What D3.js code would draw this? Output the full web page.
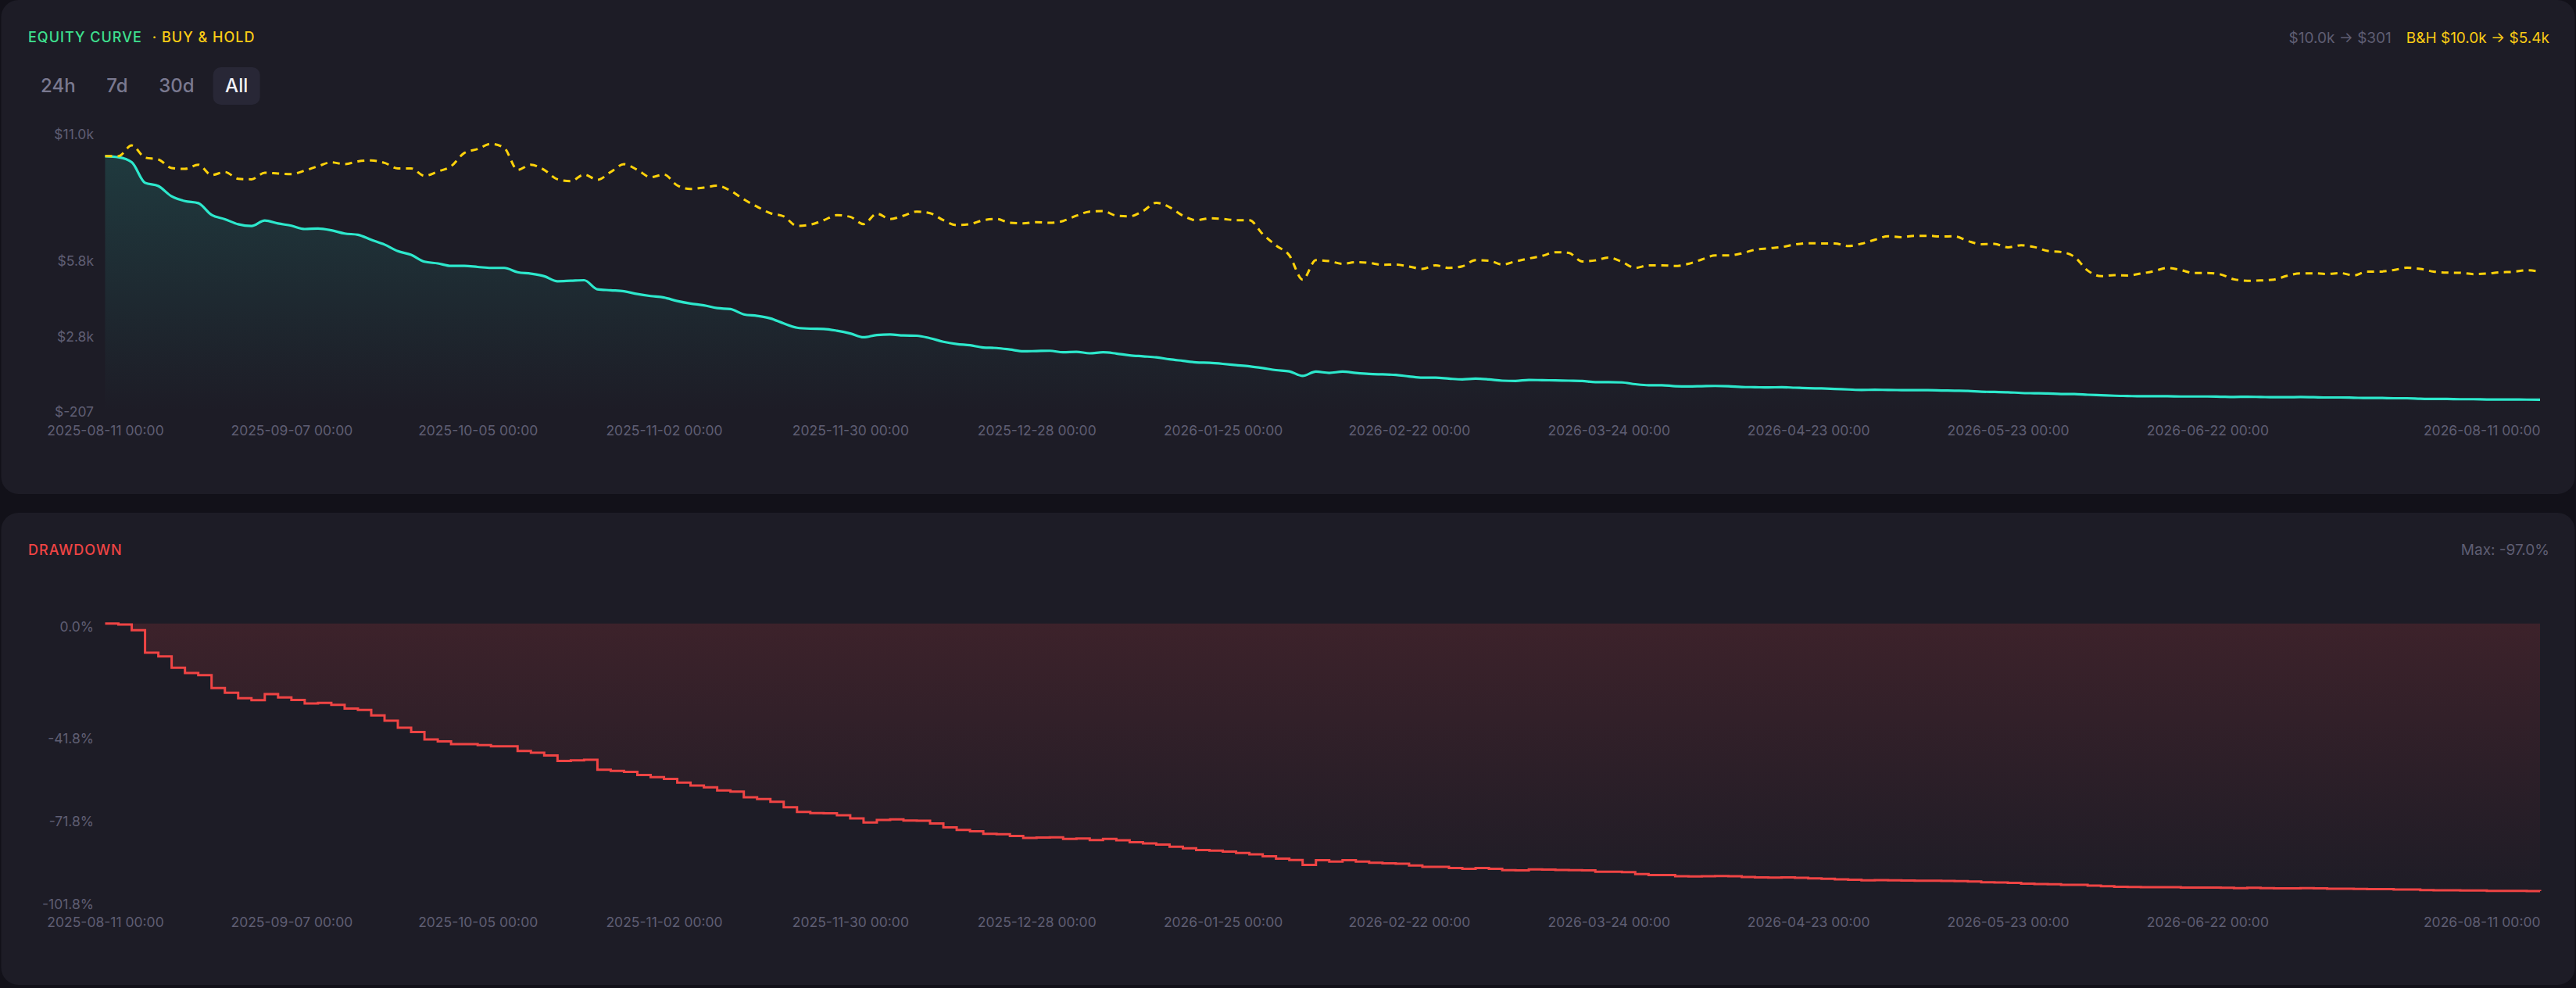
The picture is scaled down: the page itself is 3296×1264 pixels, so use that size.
<!DOCTYPE html>
<html lang="en">
<head>
<meta charset="UTF-8">
<title>Equity curve</title>
<script src="https://cdn.jsdelivr.net/npm/d3@7"></script>
<style>
  html, body { margin: 0; padding: 0; background: #121119; }
  svg { display: block; font-family: Inter, "Noto Sans", sans-serif; }
</style>
</head>
<body>
<svg id="chart" width="3296" height="1264"></svg>
<script>
// strategy equity, one value every ~2 days from 2025-08-11 to 2026-08-11
const equity = [
  10000, 9960, 9760, 8940, 8810, 8400, 8210, 8130, 7660, 7490, 7290, 7220, 7440, 7320, 7230, 7100,
  7120, 7050, 6920, 6870, 6670, 6480, 6220, 6070, 5800, 5730, 5630, 5630, 5590, 5550, 5550, 5380,
  5320, 5220, 5020, 5040, 5060, 4700, 4660, 4620, 4510, 4430, 4370, 4230, 4130, 4060, 3950, 3910,
  3700, 3640, 3540, 3340, 3170, 3130, 3120, 3050, 2940, 2790, 2880, 2900, 2860, 2850, 2750, 2610,
  2520, 2470, 2380, 2360, 2300, 2230, 2240, 2250, 2190, 2210, 2150, 2190, 2140, 2070, 2030, 1990,
  1910, 1850, 1790, 1770, 1730, 1680, 1630, 1560, 1480, 1430, 1250, 1420, 1370, 1420, 1370, 1330,
  1310, 1290, 1230, 1180, 1180, 1140, 1110, 1140, 1110, 1060, 1050, 1090, 1080, 1070, 1060, 1050,
  1000, 1000, 990, 920, 880, 880, 840, 830, 840, 850, 840, 810, 800, 790, 800, 780,
  760, 750, 730, 710, 690, 700, 690, 685, 680, 680, 670, 660, 650, 620, 610, 600,
  570, 560, 550, 530, 530, 500, 480, 460, 450, 440, 440, 440, 430, 430, 430, 420,
  410, 420, 410, 400, 400, 410, 400, 390, 390, 380, 370, 370, 360, 360, 340, 330,
  330, 320, 320, 310, 310, 310, 305, 301
];

// buy & hold of the same capital
const buyHold = [
  10000, 10000, 10430, 9945, 9870, 9530, 9495, 9660, 9250, 9370, 9100, 9080, 9340, 9310, 9290, 9425,
  9600, 9755, 9680, 9795, 9830, 9735, 9515, 9515, 9215, 9390, 9600, 10130, 10285, 10490, 10325, 9455,
  9660, 9455, 9080, 9005, 9270, 9060, 9370, 9680, 9455, 9165, 9270, 8835, 8695, 8750, 8825, 8625,
  8280, 7990, 7730, 7605, 7225, 7275, 7450, 7650, 7585, 7295, 7710, 7500, 7630, 7795, 7730, 7450,
  7255, 7295, 7450, 7500, 7345, 7325, 7370, 7345, 7420, 7630, 7795, 7815, 7630, 7605, 7815, 8145,
  7970, 7630, 7450, 7525, 7500, 7450, 7450, 6900, 6445, 6050, 5085, 5860, 5820, 5715, 5780, 5750,
  5675, 5685, 5605, 5510, 5655, 5550, 5615, 5860, 5840, 5685, 5810, 5925, 6030, 6175, 6150, 5810,
  5850, 5965, 5790, 5550, 5655, 5655, 5625, 5715, 5885, 6050, 6050, 6130, 6275, 6330, 6380, 6485,
  6535, 6525, 6525, 6425, 6515, 6670, 6810, 6775, 6830, 6830, 6800, 6810, 6620, 6495, 6505, 6370,
  6455, 6380, 6225, 6185, 5995, 5445, 5220, 5260, 5250, 5325, 5425, 5550, 5465, 5345, 5345, 5290,
  5095, 5040, 5050, 5085, 5240, 5335, 5335, 5310, 5345, 5250, 5405, 5405, 5465, 5560, 5510, 5405,
  5365, 5355, 5305, 5325, 5375, 5395, 5455, 5405
];

// drawdown from peak, percent
const drawdown = [
  0, -0.4, -2.4, -10.6, -11.9, -16.0, -17.9, -18.7, -23.4, -25.1, -27.1, -27.8, -25.6, -26.8, -27.7, -29.0,
  -28.8, -29.5, -30.8, -31.3, -33.3, -35.2, -37.8, -39.3, -42.0, -42.7, -43.7, -43.7, -44.1, -44.5, -44.5, -46.2,
  -46.8, -47.8, -49.8, -49.6, -49.4, -53.0, -53.4, -53.8, -54.9, -55.7, -56.3, -57.7, -58.7, -59.4, -60.5, -60.9,
  -63.0, -63.6, -64.6, -66.6, -68.3, -68.7, -68.8, -69.5, -70.6, -72.1, -71.2, -71.0, -71.4, -71.5, -72.5, -73.9,
  -74.8, -75.3, -76.2, -76.4, -77.0, -77.7, -77.6, -77.5, -78.1, -77.9, -78.5, -78.1, -78.6, -79.3, -79.7, -80.1,
  -80.9, -81.5, -82.1, -82.3, -82.7, -83.2, -83.7, -84.4, -85.2, -85.7, -87.5, -85.8, -86.3, -85.8, -86.3, -86.7,
  -86.9, -87.1, -87.7, -88.2, -88.2, -88.6, -88.9, -88.6, -88.9, -89.4, -89.5, -89.1, -89.2, -89.3, -89.4, -89.5,
  -90.0, -90.0, -90.1, -90.8, -91.2, -91.2, -91.6, -91.7, -91.6, -91.5, -91.6, -91.9, -92.0, -92.1, -92.0, -92.2,
  -92.4, -92.5, -92.7, -92.9, -93.1, -93.0, -93.1, -93.15, -93.2, -93.2, -93.3, -93.4, -93.5, -93.8, -93.9, -94.0,
  -94.3, -94.4, -94.5, -94.7, -94.7, -95.0, -95.2, -95.4, -95.5, -95.6, -95.6, -95.6, -95.7, -95.7, -95.7, -95.8,
  -95.9, -95.8, -95.9, -96.0, -96.0, -95.9, -96.0, -96.1, -96.1, -96.2, -96.3, -96.3, -96.4, -96.4, -96.6, -96.7,
  -96.7, -96.8, -96.8, -96.9, -96.9, -96.9, -96.95, -96.99
];

const xTickIndex = [0, 14, 28, 42, 56, 70, 84, 98, 113, 128, 143, 158, 183];
const xTickLabels = [
  "2025-08-11 00:00", "2025-09-07 00:00", "2025-10-05 00:00", "2025-11-02 00:00", "2025-11-30 00:00",
  "2025-12-28 00:00", "2026-01-25 00:00", "2026-02-22 00:00", "2026-03-24 00:00", "2026-04-23 00:00",
  "2026-05-23 00:00", "2026-06-22 00:00", "2026-08-11 00:00"
];
const equityDomain = [-207, 11000];
const equityTicks = [11000, 5800, 2800, -207];
const ddDomain = [-101.8, 0];
const ddTicks = [0, -41.8, -71.8, -101.8];
const ranges = ["24h", "7d", "30d", "All"];
const activeRange = "All";

const col = {
  panel: "#1d1c26",
  axis: "#5f5e73",
  equity: "#2de8cc",
  hold: "#ffd20a",
  holdText: "#facc15",
  green: "#3ee08f",
  red: "#ef4444"
};

const svg = d3.select("#chart");
const left = 134.5, right = 3250;

const x = d3.scaleLinear().domain([0, equity.length - 1]).range([left, right]);
const yEq = d3.scaleLinear().domain(equityDomain).range([527.7, 167.7]);
const yDd = d3.scaleLinear().domain(ddDomain).range([1157, 797.7]);

const money = v => Math.abs(v) >= 1000 ? "$" + (v / 1000).toFixed(1) + "k" : "$" + Math.round(v);
const pct = v => v.toFixed(1) + "%";

// panels
svg.append("rect").attr("x", 1.5).attr("y", 0).attr("width", 3293).attr("height", 632)
  .attr("rx", 22).attr("fill", col.panel);
svg.append("rect").attr("x", 1.5).attr("y", 656).attr("width", 3293).attr("height", 604)
  .attr("rx", 22).attr("fill", col.panel);

// gradients
const defs = svg.append("defs");
const eqGrad = defs.append("linearGradient").attr("id", "eqFill")
  .attr("gradientUnits", "userSpaceOnUse")
  .attr("x1", 0).attr("x2", 0).attr("y1", yEq.range()[1]).attr("y2", yEq.range()[0]);
eqGrad.append("stop").attr("offset", 0).attr("stop-color", col.equity).attr("stop-opacity", 0.16);
eqGrad.append("stop").attr("offset", 1).attr("stop-color", col.equity).attr("stop-opacity", 0);

const ddGrad = defs.append("linearGradient").attr("id", "ddFill")
  .attr("gradientUnits", "userSpaceOnUse")
  .attr("x1", 0).attr("x2", 0).attr("y1", yDd.range()[1]).attr("y2", yDd.range()[0]);
ddGrad.append("stop").attr("offset", 0).attr("stop-color", col.red).attr("stop-opacity", 0.15);
ddGrad.append("stop").attr("offset", 1).attr("stop-color", col.red).attr("stop-opacity", 0);

// headers
const titleStyle = sel => sel.attr("font-size", 18).attr("font-weight", 500).attr("letter-spacing", 1);

const t1 = svg.append("text").attr("x", 36).attr("y", 54).attr("fill", col.green)
  .call(titleStyle).text("EQUITY CURVE");
svg.append("text").attr("x", 36 + t1.node().getComputedTextLength() + 13).attr("y", 54)
  .attr("fill", col.holdText).call(titleStyle).text("· BUY & HOLD");

const summary = svg.append("text").attr("x", 3262).attr("y", 55).attr("text-anchor", "end")
  .attr("font-size", 19);
summary.append("tspan").attr("fill", col.axis)
  .text(money(equity[0]) + " → " + money(equity[equity.length - 1]));
summary.append("tspan").attr("dx", 19).attr("fill", col.holdText)
  .text("B&H " + money(buyHold[0]) + " → " + money(buyHold[buyHold.length - 1]));

svg.append("text").attr("x", 36).attr("y", 710).attr("fill", col.red)
  .call(titleStyle).text("DRAWDOWN");
svg.append("text").attr("x", 3262).attr("y", 710).attr("text-anchor", "end")
  .attr("font-size", 19).attr("fill", col.axis)
  .text("Max: " + pct(d3.min(drawdown)));

// range buttons
let bx = 36.5;
ranges.forEach(r => {
  const g = svg.append("g");
  const bg = g.append("rect").attr("y", 86).attr("height", 48).attr("rx", 10)
    .attr("fill", r === activeRange ? "#282736" : "none");
  const t = g.append("text").attr("y", 118).attr("font-size", 24).attr("font-weight", 500)
    .attr("fill", r === activeRange ? "#f2f2f7" : "#7a7990").text(r);
  const w = t.node().getComputedTextLength() + 31;
  bg.attr("x", bx).attr("width", w);
  t.attr("x", bx + 15.5);
  bx += w + 8.6;
});

// axes
function styleAxis(g) {
  g.select(".domain").remove();
  g.selectAll("text").attr("fill", col.axis).attr("font-size", 17.5)
    .attr("font-family", "Inter, 'Noto Sans', sans-serif");
}

function yAxis(scale, ticks, fmt) {
  const top = scale.range()[1];
  svg.append("g").attr("transform", `translate(${left},0)`)
    .call(d3.axisLeft(scale).tickValues(ticks).tickFormat(fmt).tickSize(0).tickPadding(14.5))
    .call(styleAxis)
    .call(g => g.selectAll(".tick")
      .attr("transform", d => `translate(0,${Math.max(scale(d), top + 4.6)})`));
}

function xAxis(yPos) {
  svg.append("g").attr("transform", `translate(0,${yPos})`)
    .call(d3.axisBottom(x).tickValues(xTickIndex).tickFormat((d, i) => xTickLabels[i])
      .tickSize(0).tickPadding(16.5))
    .call(styleAxis)
    .call(g => g.selectAll(".tick text")
      .attr("text-anchor", (d, i) => i === xTickIndex.length - 1 ? "end" : "middle"));
}

yAxis(yEq, equityTicks, money);
xAxis(yEq.range()[0]);
yAxis(yDd, ddTicks, pct);
xAxis(yDd.range()[0]);

// equity chart
svg.append("path").datum(equity)
  .attr("fill", "url(#eqFill)")
  .attr("d", d3.area().curve(d3.curveMonotoneX)
    .x((d, i) => x(i)).y0(yEq.range()[0]).y1(d => yEq(d)));

svg.append("path").datum(equity)
  .attr("fill", "none").attr("stroke", col.equity).attr("stroke-width", 3.2)
  .attr("stroke-linejoin", "round")
  .attr("d", d3.line().curve(d3.curveMonotoneX).x((d, i) => x(i)).y(d => yEq(d)));

svg.append("path").datum(buyHold)
  .attr("fill", "none").attr("stroke", col.hold).attr("stroke-width", 3)
  .attr("stroke-dasharray", "9 7")
  .attr("d", d3.line().curve(d3.curveMonotoneX).x((d, i) => x(i)).y(d => yEq(d)));

// drawdown chart
svg.append("path").datum(drawdown)
  .attr("fill", "url(#ddFill)")
  .attr("d", d3.area().curve(d3.curveStepAfter)
    .x((d, i) => x(i)).y0(yDd(0)).y1(d => yDd(d)));

svg.append("path").datum(drawdown)
  .attr("fill", "none").attr("stroke", col.red).attr("stroke-width", 3)
  .attr("d", d3.line().curve(d3.curveStepAfter).x((d, i) => x(i)).y(d => yDd(d)));
</script>
</body>
</html>
